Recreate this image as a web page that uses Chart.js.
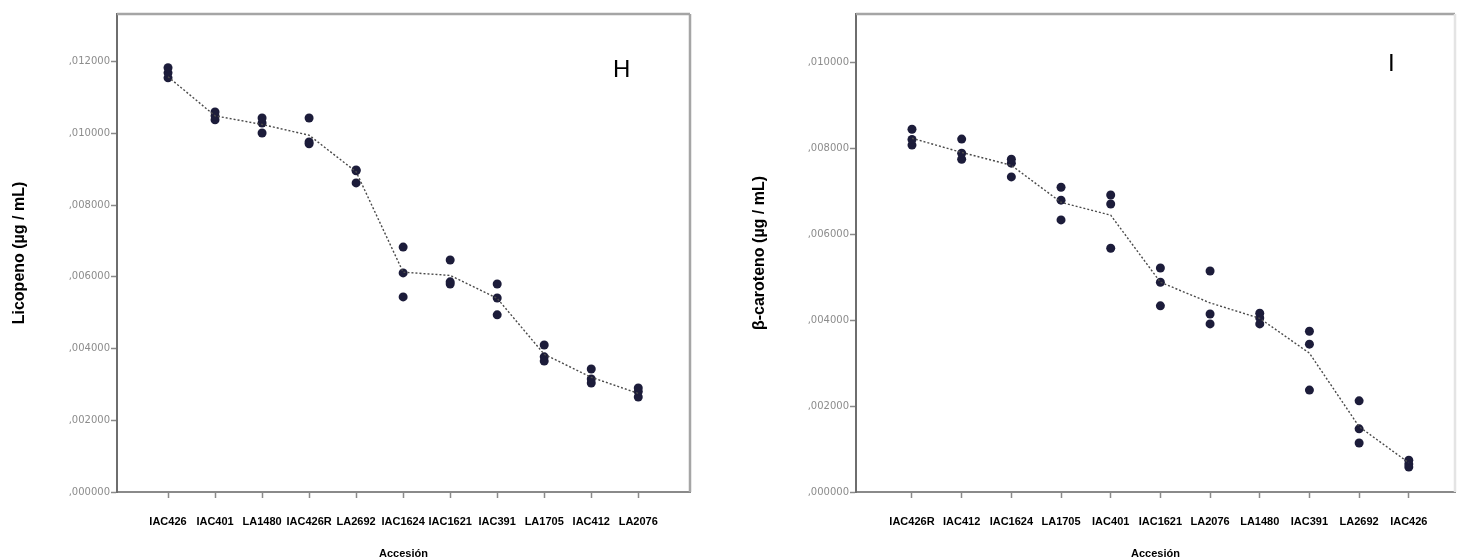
<!DOCTYPE html>
<html>
<head>
<meta charset="utf-8">
<script src="https://cdn.jsdelivr.net/npm/chart.js@4.4.1/dist/chart.umd.min.js"></script>
<style>
  html, body { margin: 0; padding: 0; background: #fff; width: 1457px; height: 558px; overflow: hidden; }
  .box { position: absolute; top: 0; height: 564px; }
  #boxH { left: 0; width: 740px; }
  #boxI { left: 740px; width: 720px; }
  .letra { position: absolute; font-family: "Liberation Sans", Arial, sans-serif; font-size: 24px; line-height: 1; color: #000; }
</style>
</head>
<body>
<div class="box" id="boxH"><canvas id="chartH"></canvas></div>
<div class="box" id="boxI"><canvas id="chartI"></canvas></div>
<div class="letra" style="left:613px; top:57px;">H</div>
<div class="letra" style="left:1388px; top:51px;">I</div>
<script>
// panel H - licopeno
const categoriasH = ['IAC426', 'IAC401', 'LA1480', 'IAC426R', 'LA2692', 'IAC1624', 'IAC1621', 'IAC391', 'LA1705', 'IAC412', 'LA2076'];
const licopenoR1 = [0.01183, 0.01060, 0.01043, 0.01043, 0.00898, 0.00683, 0.00647, 0.00580, 0.00410, 0.00343, 0.00290];
const licopenoR2 = [0.01169, 0.01049, 0.01029, 0.00976, 0.00896, 0.00611, 0.00586, 0.00541, 0.00377, 0.00315, 0.00280];
const licopenoR3 = [0.01155, 0.01038, 0.01001, 0.00971, 0.00862, 0.00544, 0.00580, 0.00494, 0.00365, 0.00304, 0.00265];
const licopenoMedia = [0.01158, 0.01049, 0.01025, 0.00995, 0.00893, 0.00613, 0.00604, 0.00540, 0.00384, 0.00320, 0.00275];
const ticksH = [0, 0.002, 0.004, 0.006, 0.008, 0.010, 0.012];

// panel I - beta caroteno
const categoriasI = ['IAC426R', 'IAC412', 'IAC1624', 'LA1705', 'IAC401', 'IAC1621', 'LA2076', 'LA1480', 'IAC391', 'LA2692', 'IAC426'];
const carotenoR1 = [0.00844, 0.00821, 0.00774, 0.00709, 0.00691, 0.00521, 0.00514, 0.00416, 0.00374, 0.00212, 0.00074];
const carotenoR2 = [0.00820, 0.00788, 0.00765, 0.00679, 0.00670, 0.00488, 0.00414, 0.00405, 0.00344, 0.00147, 0.00065];
const carotenoR3 = [0.00807, 0.00774, 0.00733, 0.00633, 0.00567, 0.00433, 0.00391, 0.00391, 0.00237, 0.00114, 0.00058];
const carotenoMedia = [0.00823, 0.00790, 0.00760, 0.00674, 0.00644, 0.00488, 0.00440, 0.00404, 0.00323, 0.00152, 0.00068];
const ticksI = [0, 0.002, 0.004, 0.006, 0.008, 0.010];

const puntoColor = '#1c1c3a';
const ejeColor = '#8a8a8a';

const toXY = (arr) => arr.map((v, i) => ({ x: i, y: v }));
const fmtTick = (v) => ',' + v.toFixed(6).split('.')[1];

// marco gris arriba y a la derecha
const marco = {
  id: 'marco',
  afterDraw(chart) {
    const { ctx, chartArea } = chart;
    ctx.save();
    ctx.strokeStyle = '#a5a5a5';
    ctx.lineWidth = 2.5;
    ctx.beginPath();
    ctx.moveTo(chartArea.left, chartArea.top);
    ctx.lineTo(chartArea.right, chartArea.top);
    ctx.stroke();
    ctx.strokeStyle = chart.canvas.id === 'chartI' ? '#e4e4e4' : '#a5a5a5';
    ctx.beginPath();
    ctx.moveTo(chartArea.right, chartArea.top);
    ctx.lineTo(chartArea.right, chartArea.bottom);
    ctx.stroke();
    ctx.restore();
  }
};

const make_chart = (id, cats, r1, r2, r3, media, yTicks, yMax, xMin, xMax, yTitle, padRight, axisW) => {
  const puntos = (arr) => ({
    type: 'scatter',
    data: toXY(arr),
    pointRadius: 4.5,
    pointHoverRadius: 4.5,
    pointBackgroundColor: puntoColor,
    pointBorderColor: puntoColor,
    pointBorderWidth: 0,
    showLine: false
  });
  return new Chart(document.getElementById(id), {
    type: 'scatter',
    data: {
      datasets: [
        {
          type: 'line',
          data: toXY(media),
          borderColor: '#4a4a4a',
          borderWidth: 1.4,
          borderDash: [2, 2],
          pointRadius: 0,
          fill: false,
          tension: 0
        },
        puntos(r1), puntos(r2), puntos(r3)
      ]
    },
    plugins: [marco],
    options: {
      responsive: true,
      maintainAspectRatio: false,
      animation: false,
      layout: { padding: { top: 14, right: padRight, bottom: 0, left: 0 } },
      plugins: { legend: { display: false }, tooltip: { enabled: false } },
      scales: {
        x: {
          type: 'linear',
          min: xMin,
          max: xMax,
          afterBuildTicks: (scale) => { scale.ticks = cats.map((c, i) => ({ value: i })); },
          afterFit: (scale) => { scale.height = 72; },
          ticks: {
            autoSkip: false,
            maxRotation: 0,
            padding: 17,
            color: '#000',
            font: { family: '"Liberation Sans", Arial, sans-serif', size: 11, weight: 'bold' },
            callback: (v) => cats[v]
          },
          grid: { drawOnChartArea: false, drawTicks: true, tickLength: 6, color: ejeColor, tickWidth: 1.5 },
          border: { color: ejeColor, width: 2 },
          title: {
            display: true,
            text: 'Accesión',
            color: '#000',
            font: { family: '"Liberation Sans", Arial, sans-serif', size: 11, weight: 'bold' },
            padding: { top: 0, bottom: 3 }
          }
        },
        y: {
          min: 0,
          max: yMax,
          afterBuildTicks: (scale) => { scale.ticks = yTicks.map(v => ({ value: v })); },
          afterFit: (scale) => { scale.width = axisW; },
          ticks: {
            padding: 1,
            color: '#8c8c8c',
            font: { family: '"DejaVu Sans", sans-serif', size: 10 },
            callback: (v) => fmtTick(v)
          },
          grid: { drawOnChartArea: false, drawTicks: true, tickLength: 6, color: ejeColor, tickWidth: 1.5 },
          border: { color: '#6e6e6e', width: 2 },
          title: {
            display: true,
            text: yTitle,
            color: '#000',
            font: { family: '"Liberation Sans", Arial, sans-serif', size: 16, weight: 'bold' },
            padding: { top: 10, bottom: 0 }
          }
        }
      }
    }
  });
};

make_chart('chartH', categoriasH, licopenoR1, licopenoR2, licopenoR3, licopenoMedia, ticksH, 0.01333, -1.085, 11.1, 'Licopeno (µg / mL)', 50, 117);
make_chart('chartI', categoriasI, carotenoR1, carotenoR2, carotenoR3, carotenoMedia, ticksI, 0.01112, -1.127, 10.93, 'β-caroteno (µg / mL)', 5, 116);
</script>
</body>
</html>
